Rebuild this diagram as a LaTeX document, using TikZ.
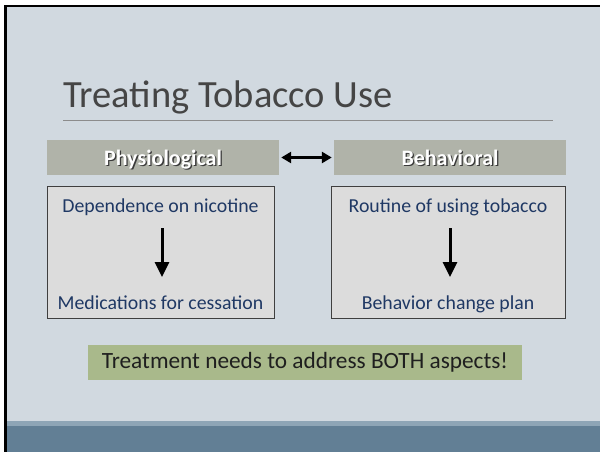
\documentclass[tikz,border=0pt]{standalone}
\usepackage{fontspec}
\setmainfont{Carlito}
\usetikzlibrary{arrows.meta}

\definecolor{slidebg}{HTML}{D1D9E0}
\definecolor{titlegray}{HTML}{454545}
\definecolor{rulegray}{HTML}{8C8C8C}
\definecolor{headfill}{HTML}{B0B3A9}
\definecolor{boxfill}{HTML}{DCDCDC}
\definecolor{boxline}{HTML}{3F3F3F}
\definecolor{navytext}{HTML}{1F3864}
\definecolor{notefill}{HTML}{A9B98B}
\definecolor{bandlight}{HTML}{8EA5B6}
\definecolor{banddark}{HTML}{627F95}
\definecolor{shadowc}{HTML}{3A3A3A}

% white bold label with a small drop shadow
\newcommand\shadowlabel[1]{\leavevmode\rlap{\raisebox{-1.3pt}{\hspace{1.3pt}\textcolor{shadowc}{#1}}}\textcolor{white}{#1}}

\tikzset{
  headbox/.style={fill=headfill, draw=none, minimum height=35pt, inner sep=0pt},
  headtext/.style={anchor=base, inner sep=0pt, font=\fontsize{22}{24}\selectfont\bfseries},
  contentbox/.style={fill=boxfill, draw=boxline, line width=0.9pt},
  boxtext/.style={text=navytext, font=\fontsize{19.8}{22}\selectfont, anchor=base, inner sep=0pt},
  flowarrow/.style={line width=3pt, -{Triangle[length=15pt,width=14pt]}},
  linkarrow/.style={line width=3pt, {Triangle[length=10pt,width=11pt]}-{Triangle[length=10pt,width=11pt]}},
}

\begin{document}
\begin{tikzpicture}[x=1pt,y=-1pt]
  \useasboundingbox (0,0) rectangle (600,452);
  \fill[white] (0,0) rectangle (600,452);
  % slide area with its black top and left edges
  \fill[black] (3.5,5) rectangle (600,452);
  \fill[slidebg] (6.5,7.5) rectangle (600,452);
  % footer band
  \fill[bandlight] (6.5,421) rectangle (600,426);
  \fill[banddark] (6.5,426) rectangle (600,452);

  % title and its rule
  \node[anchor=base west, inner sep=0pt, text=titlegray, font=\fontsize{38.5}{40}\selectfont]
    (title) at (63,107) {Treating Tobacco Use};
  \draw[rulegray, line width=1pt] (63,120) -- (553,120);

  % column headers
  \node[headbox, minimum width=232pt] (phys) at (163,157.5) {};
  \node[headbox, minimum width=232pt] (beh) at (450,157.5) {};
  \node[headtext] (physlabel) at (163,165) {\shadowlabel{Physiological}};
  \node[headtext] (behlabel) at (450,165) {\shadowlabel{Behavioral}};
  \draw[linkarrow, shorten <=2pt, shorten >=2pt] (phys.east) -- (beh.west);

  % left column
  \node[contentbox, minimum width=227pt, minimum height=132pt] (leftbox) at (160.5,252) {};
  \node[boxtext] (dep) at (160.5,212) {Dependence on nicotine};
  \node[boxtext] (med) at (160.5,309) {Medications for cessation};
  \coordinate (depend) at (162,228);
  \coordinate (medtop) at (162,277);
  \draw[flowarrow] (depend) -- (medtop);

  % right column
  \node[contentbox, minimum width=234pt, minimum height=132pt] (rightbox) at (448,252) {};
  \node[boxtext] (rout) at (448,212) {Routine of using tobacco};
  \node[boxtext] (plan) at (448,309) {Behavior change plan};
  \coordinate (routend) at (450,228);
  \coordinate (plantop) at (450,277);
  \draw[flowarrow] (routend) -- (plantop);

  % closing note
  \node[fill=notefill, minimum width=434pt, minimum height=35pt, inner sep=0pt,
    text=black!88, font=\fontsize{23.3}{26}\selectfont] (note) at (305,362.5)
    {Treatment needs to address BOTH aspects!};
\end{tikzpicture}
\end{document}
